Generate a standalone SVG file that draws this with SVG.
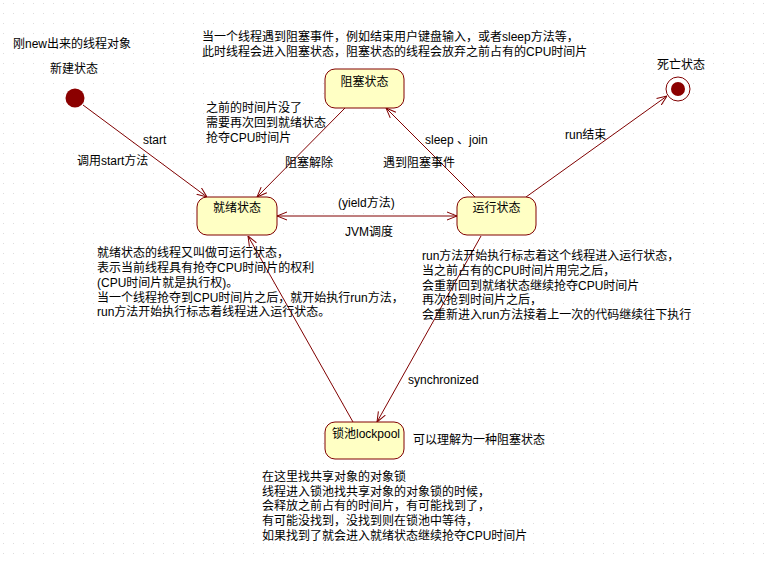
<svg xmlns="http://www.w3.org/2000/svg" width="768" height="562" viewBox="0 0 768 562">
<style>
text{font-family:"Liberation Sans","Noto Sans CJK SC",sans-serif;font-size:12px;fill:#000}
.st rect{fill:#ffffc4;stroke:#800000;stroke-width:1}
.c{text-anchor:middle}
#connectors line,#connectors path{stroke:#800000;stroke-width:1;fill:none}
</style>
<defs>
<pattern id="grid" width="10" height="10" patternUnits="userSpaceOnUse">
<rect x="3" y="3" width="1" height="1" fill="#dcdcdc"/>
</pattern>
<marker id="arr" viewBox="0 0 10 10" refX="10" refY="5" markerWidth="10" markerHeight="10" markerUnits="userSpaceOnUse" orient="auto-start-reverse">
<path d="M0,1 L10,5 L0,9" fill="none" stroke="#800000" stroke-width="1"/>
</marker>
</defs>
<rect width="768" height="562" fill="#fff"/>
<rect width="768" height="562" fill="url(#grid)"/>

<g id="connectors">
<line x1="83" y1="105" x2="207" y2="197" marker-end="url(#arr)"/>
<line x1="345" y1="108" x2="257" y2="197" marker-end="url(#arr)"/>
<line x1="475" y1="197" x2="386" y2="108" marker-end="url(#arr)"/>
<line x1="277" y1="216" x2="457" y2="216" marker-start="url(#arr)" marker-end="url(#arr)"/>
<line x1="526" y1="197" x2="667" y2="96" marker-end="url(#arr)"/>
<line x1="481" y1="236" x2="377" y2="422" marker-end="url(#arr)"/>
<line x1="353" y1="422" x2="248" y2="236" marker-end="url(#arr)"/>
</g>

<g id="start">
<circle cx="75" cy="98" r="9.5" fill="#8b0000"/>
<text x="13" y="48">刚new出来的线程对象</text>
<text x="50" y="73">新建状态</text>
</g>

<g id="end">
<circle cx="678" cy="89" r="12" fill="#fff" stroke="#800000" stroke-width="1"/>
<circle cx="678" cy="89" r="7" fill="#8b0000"/>
<text x="681" y="69" class="c">死亡状态</text>
</g>

<g id="blocked" class="st">
<rect x="325" y="69" width="79" height="39" rx="10"/>
<text x="364.5" y="86" class="c">阻塞状态</text>
</g>

<g id="ready" class="st">
<rect x="197" y="197" width="80" height="38" rx="10"/>
<text x="237" y="212" class="c">就绪状态</text>
</g>

<g id="running" class="st">
<rect x="457" y="197" width="79" height="38" rx="10"/>
<text x="496.5" y="212" class="c">运行状态</text>
</g>

<g id="lockpool" class="st">
<rect x="325" y="422" width="79" height="37" rx="10"/>
<text x="366" y="438" class="c">锁池lockpool</text>
</g>

<g id="labels">
<text x="202" y="41">当一个线程遇到阻塞事件，例如结束用户键盘输入，或者sleep方法等，</text>
<text x="202" y="56">此时线程会进入阻塞状态，阻塞状态的线程会放弃之前占有的CPU时间片</text>
<text x="206" y="112">之前的时间片没了</text>
<text x="206" y="127">需要再次回到就绪状态</text>
<text x="206" y="142">抢夺CPU时间片</text>
<text x="143" y="144">start</text>
<text x="77" y="165">调用start方法</text>
<text x="285" y="167">阻塞解除</text>
<text x="425" y="144">sleep 、join</text>
<text x="383" y="167">遇到阻塞事件</text>
<text x="565" y="139">run结束</text>
<text x="338" y="207">(yield方法)</text>
<text x="345" y="236">JVM调度</text>
<text x="97" y="257">就绪状态的线程又叫做可运行状态，</text>
<text x="97" y="272">表示当前线程具有抢夺CPU时间片的权利</text>
<text x="97" y="287">(CPU时间片就是执行权)。</text>
<text x="97" y="302">当一个线程抢夺到CPU时间片之后，就开始执行run方法，</text>
<text x="97" y="316">run方法开始执行标志着线程进入运行状态。</text>
<text x="422" y="260">run方法开始执行标志着这个线程进入运行状态，</text>
<text x="422" y="275">当之前占有的CPU时间片用完之后，</text>
<text x="422" y="290">会重新回到就绪状态继续抢夺CPU时间片</text>
<text x="422" y="304">再次抢到时间片之后，</text>
<text x="422" y="319">会重新进入run方法接着上一次的代码继续往下执行</text>
<text x="408" y="384">synchronized</text>
<text x="413" y="444">可以理解为一种阻塞状态</text>
<text x="262" y="481">在这里找共享对象的对象锁</text>
<text x="262" y="496">线程进入锁池找共享对象的对象锁的时候，</text>
<text x="262" y="510">会释放之前占有的时间片，有可能找到了，</text>
<text x="262" y="525">有可能没找到，没找到则在锁池中等待，</text>
<text x="262" y="540">如果找到了就会进入就绪状态继续抢夺CPU时间片</text>
</g>
</svg>
